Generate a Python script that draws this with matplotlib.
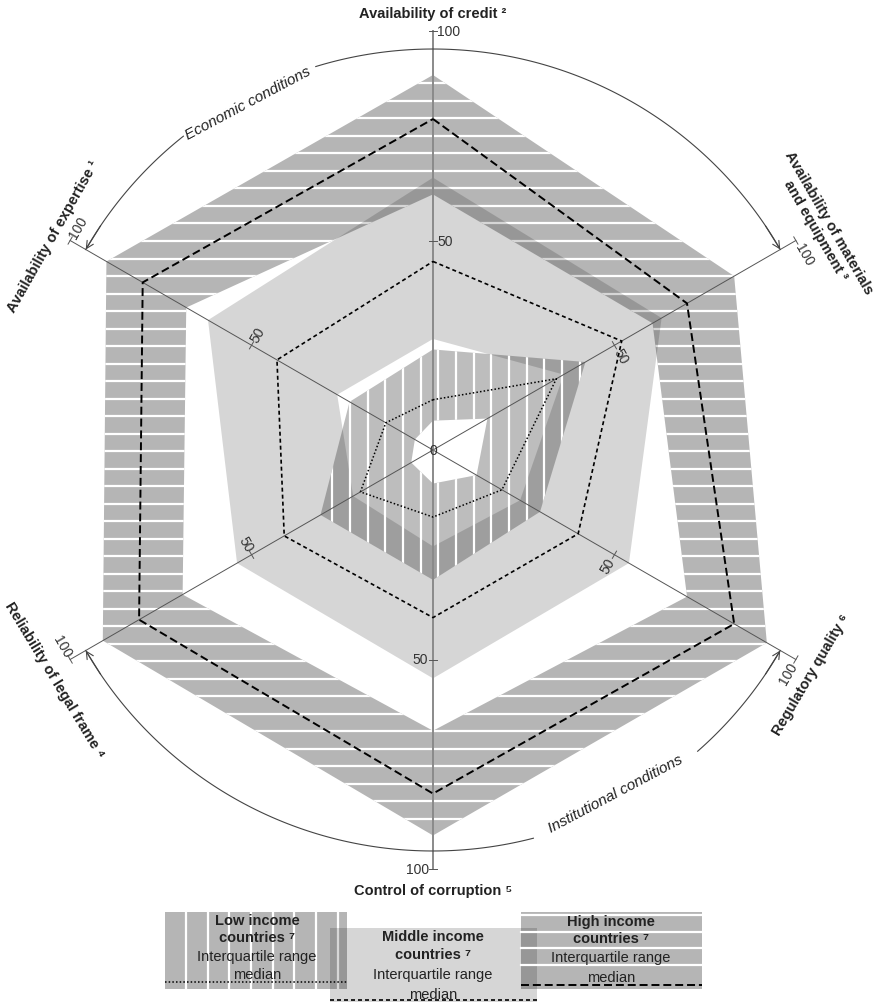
import numpy as np
import matplotlib.pyplot as plt
from matplotlib.path import Path
from matplotlib.patches import PathPatch, Rectangle

plt.rcParams["font.family"] = ["Liberation Sans", "DejaVu Sans"]

# radar axes, clockwise from the top
AXIS_LABELS = ["Availability of credit ²",
               "Availability of materials\nand equipment ³",
               "Regulatory quality ⁶",
               "Control of corruption ⁵",
               "Reliability of legal frame ⁴",
               "Availability of expertise ¹"]
ANGLES = [90, 30, -30, -90, 210, 150]

# values (0-100 scale), same axis order
LOW_Q1 = [7, 15, 12, 8, 6, 5]
LOW_MED = [12, 34, 19, 16, 20, 13]
LOW_Q3 = [24, 42, 29.5, 31, 31, 23]
MID_Q1 = [26.5, 36, 24, 23, 22, 26.4]
MID_MED = [45, 52, 40, 40, 41, 43]
MID_Q3 = [65, 63, 54, 54.5, 54, 62]
HIGH_Q1 = [61, 60.5, 70, 67, 69, 68]
HIGH_MED = [79, 70, 83, 82, 81, 80]
HIGH_Q3 = [89.5, 83, 92, 92, 91, 90]

TICKS = [50, 100]

INK = "#222222"
AXC = "#555555"
PX = 4.19            # pixels per value unit (100 -> 419 px)
CX, CY = 433, 451    # radar centre in pixels


def pol(r, ang):
    a = np.deg2rad(ang)
    return r * np.cos(a), r * np.sin(a)


def pts(vals):
    x, y = pol(np.asarray(vals, float), np.asarray(ANGLES, float))
    return np.column_stack([x, y])


def d(px, py):
    # pixel position -> data position (layout helper only)
    return (px - CX) / PX, (CY - py) / PX


def ring_patch(inner, outer, **kw):
    o = pts(outer)
    i = pts(inner)[::-1]
    verts = np.vstack([o, o[:1], i, i[:1]])
    codes = ([Path.MOVETO] + [Path.LINETO] * 5 + [Path.CLOSEPOLY]) * 2
    return PathPatch(Path(verts, codes), **kw)


fig = plt.figure(figsize=(8.77, 10.04), dpi=100)
ax = fig.add_axes([0, 0, 1, 1])
ax.set_xlim(-CX / PX, (877 - CX) / PX)
ax.set_ylim(-(1004 - CY) / PX, CY / PX)
ax.axis("off")


def stripes(patch, horizontal, start, step, z, lw=1.6):
    for k in range(-60, 60):
        c = start + k * step
        if horizontal:
            ln, = ax.plot([-110, 110], [c, c], color="white", lw=lw, zorder=z)
        else:
            ln, = ax.plot([c, c], [-140, 110], color="white", lw=lw, zorder=z)
        ln.set_clip_path(patch)


# --- interquartile bands ---
high = ring_patch(HIGH_Q1, HIGH_Q3, facecolor="black", alpha=0.29, edgecolor="none", zorder=1)
ax.add_patch(high)
stripes(high, True, 87.5, 4.18, 1.1)

mid = ring_patch(MID_Q1, MID_Q3, facecolor="black", alpha=0.16, edgecolor="none", zorder=2)
ax.add_patch(mid)

low = ring_patch(LOW_Q1, LOW_Q3, facecolor="black", alpha=0.26, edgecolor="none", zorder=3)
ax.add_patch(low)
stripes(low, False, 1.27, 4.22, 3.1)

# --- axes, ticks, tick labels ---
for ang in ANGLES:
    x, y = pol(100, ang)
    vert = ang in (90, -90)
    ax.plot([0, x], [0, y], color="#8a8a8a" if vert else AXC,
            lw=1.4 if vert else 0.7, zorder=4)
    rot = (ang % 180) - 90
    s, c = np.sin(np.deg2rad(ang)), np.cos(np.deg2rad(ang))
    for r in TICKS:
        tx, ty = pol(r, ang)
        ax.plot([tx - s, tx + s], [ty + c, ty - c], color=AXC, lw=0.7, zorder=4)
        off = 3.8 if r == 100 else 3.0
        ax.text(tx + off * s, ty - off * c, str(r), rotation=rot,
                ha="center", va="center", fontsize=10, color="#333",
                rotation_mode="anchor", zorder=6)
ax.text(0, 0, "0", ha="center", va="center", fontsize=10, color="#333", zorder=6)

# --- medians ---
for vals, dash, lw in [(HIGH_MED, (4.1, 2.0), 1.4),
                       (MID_MED, (2.4, 1.8), 1.2),
                       (LOW_MED, (1.0, 1.4), 1.1)]:
    p = pts(vals)
    p = np.vstack([p, p[:1]])
    ax.plot(p[:, 0], p[:, 1], color="black", lw=lw, dashes=dash, zorder=5)

# --- category labels ---
LABEL_POS = [(104.3, 90), (107.2, 30), (104.8, -30.6), (105, -90), (105.5, 211.2), (104, 150.5)]
for lab, (r, ang) in zip(AXIS_LABELS, LABEL_POS):
    x, y = pol(r, ang)
    ax.text(x, y, lab, rotation=(ang % 180) - 90 if ang not in (90, -90) else 0,
            ha="center", va="center", fontsize=10.5, fontweight="bold",
            color=INK, linespacing=1.15, rotation_mode="anchor")

# --- condition arcs ---
ARC_R = 95.7
for a0, a1 in [(150, 128.5), (107, 30), (-30, -48.7), (-75.5, -150)]:
    t = np.linspace(a0, a1, 120)
    x, y = pol(ARC_R, t)
    ax.plot(x, y, color="#444", lw=0.8, zorder=4)
for a_end, a_from in [(150, 146), (30, 34), (-30, -34), (-150, -146)]:
    ax.annotate("", xy=pol(ARC_R, a_end), xytext=pol(ARC_R, a_from),
                arrowprops=dict(arrowstyle="->", color="#444", lw=0.8,
                                shrinkA=0, shrinkB=0, mutation_scale=13))
x, y = pol(94, 118)
ax.text(x, y, "Economic conditions", rotation=28, ha="center", va="center",
        fontsize=11, style="italic", color=INK, rotation_mode="anchor")
x, y = pol(92.8, -62)
ax.text(x, y, "Institutional conditions", rotation=28, ha="center", va="center",
        fontsize=11, style="italic", color=INK, rotation_mode="anchor")

# --- legend ---
def legend_box(x0, y0, x1, y1, alpha, z):
    (ax0, ay0), (ax1, ay1) = d(x0, y1), d(x1, y0)
    rect = Rectangle((ax0, ay0), ax1 - ax0, ay1 - ay0, facecolor="black",
                     alpha=alpha, edgecolor="none", zorder=z)
    ax.add_patch(rect)
    return rect


lb = legend_box(165, 913, 347, 990, 0.29, 10)
for xp in np.arange(186, 347, 21.7):
    ax.plot(*zip(d(xp, 913), d(xp, 990)), color="white", lw=1.6, zorder=10.1)
ax.plot(*zip(d(165, 983), d(347, 983)), color="black", lw=1.1, dashes=(1.0, 1.4), zorder=10.2)

mb = legend_box(330, 929, 537, 1003, 0.16, 11)
ax.plot(*zip(d(330, 1001), d(537, 1001)), color="black", lw=1.2, dashes=(2.4, 1.8), zorder=11.2)

hb = legend_box(521, 913, 702, 990, 0.29, 12)
for yp in [916, 933, 949, 966]:
    ax.plot(*zip(d(521, yp), d(702, yp)), color="white", lw=1.6, zorder=12.1)
ax.plot(*zip(d(521, 986), d(702, 986)), color="black", lw=1.4, dashes=(4.1, 2.0), zorder=12.2)

for cxp, ys, title in [(257, (921, 938, 957, 975), "Low income"),
                       (433, (937, 955, 975, 995), "Middle income"),
                       (611, (922, 939, 958, 978), "High income")]:
    ax.text(*d(cxp, ys[0]), title, ha="center", va="center", fontsize=10.5,
            fontweight="bold", color=INK, zorder=20)
    ax.text(*d(cxp, ys[1]), "countries ⁷", ha="center", va="center",
            fontsize=10.5, fontweight="bold", color=INK, zorder=20)
    ax.text(*d(cxp, ys[2]), "Interquartile range", ha="center", va="center",
            fontsize=10.5, color=INK, zorder=20)
    ax.text(*d(cxp, ys[3]), "median", ha="center", va="center",
            fontsize=10.5, color=INK, zorder=20)

fig.savefig("out.png", dpi=100)
